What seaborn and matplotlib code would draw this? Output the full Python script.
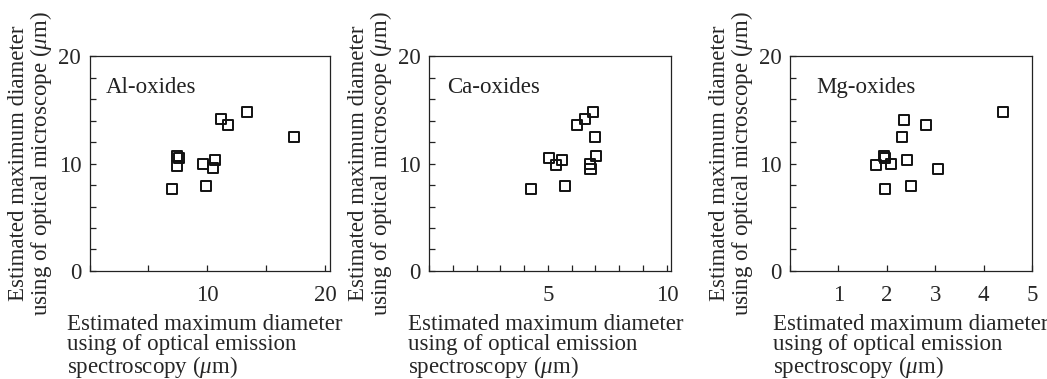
import matplotlib
matplotlib.use("Agg")
import matplotlib.pyplot as plt
import seaborn as sns
from matplotlib.ticker import MultipleLocator, FixedLocator

# Estimated maximum diameters (um): optical emission spectroscopy (x) vs optical microscope (y)
al_x = [7.03, 7.41, 7.63, 7.43, 9.64, 9.84, 10.47, 10.66, 11.17, 11.77, 13.36, 17.32]
al_y = [7.60, 10.73, 10.48, 9.80, 9.93, 7.94, 9.55, 10.33, 14.10, 13.58, 14.80, 12.47]

ca_x = [4.28, 5.05, 5.33, 5.59, 5.70, 6.24, 6.57, 6.89, 6.99, 7.03, 6.75, 6.79]
ca_y = [7.63, 10.48, 9.83, 10.33, 7.91, 13.60, 14.10, 14.76, 12.47, 10.73, 9.93, 9.52]

mg_x = [1.78, 1.94, 1.96, 2.08, 1.96, 2.36, 2.32, 2.41, 2.50, 2.81, 3.06, 4.40]
mg_y = [9.83, 10.70, 10.48, 9.95, 7.63, 14.07, 12.47, 10.33, 7.91, 13.60, 9.52, 14.79]

panel_names = ["Al-oxides", "Ca-oxides", "Mg-oxides"]
x_tick_labels = [[10, 20], [5, 10], [1, 2, 3, 4, 5]]
y_tick_labels = [0, 10, 20]

xlabel = "Estimated maximum diameter\nusing of optical emission\nspectroscopy ($\\mu$m)"
ylabel = "Estimated maximum diameter\nusing of optical microscope ($\\mu$m)"

sns.set_theme(style="ticks")
plt.rcParams["font.family"] = ["Liberation Serif", "DejaVu Serif"]
plt.rcParams["mathtext.fontset"] = "custom"
plt.rcParams["mathtext.rm"] = "Liberation Serif"
plt.rcParams["mathtext.it"] = "Liberation Serif:italic"
plt.rcParams["axes.edgecolor"] = "#222222"
plt.rcParams["text.color"] = "#222222"

FS = 16.5

fig = plt.figure(figsize=(10.47, 3.79), dpi=100)

axes_specs = [
    # left, width (figure fraction), xlim, minor x step, label x offset, name x
    (0.0855, 0.2297, (0, 20.4), 5, -0.092, 0.066),
    (0.4097, 0.2311, (0, 10.17), 1, -0.088, 0.074),
    (0.7545, 0.2311, (0, 5.0), 1, -0.072, 0.108),
]
data = [(al_x, al_y), (ca_x, ca_y), (mg_x, mg_y)]

for i, (left, width, xlim, step, lab_x, name_x) in enumerate(axes_specs):
    ax = fig.add_axes([left, 0.285, width, 0.567])
    xs, ys = data[i]
    sns.scatterplot(x=xs, y=ys, ax=ax, marker="s", s=52,
                    facecolor="none", edgecolor="#111111", linewidth=1.4)
    ax.set_xlim(*xlim)
    ax.set_ylim(0, 20)

    ax.xaxis.set_major_locator(FixedLocator(x_tick_labels[i]))
    ax.xaxis.set_minor_locator(MultipleLocator(step))
    ax.yaxis.set_major_locator(FixedLocator(y_tick_labels))
    ax.yaxis.set_minor_locator(MultipleLocator(2))
    ax.tick_params(axis="both", which="both", direction="in", length=4,
                   width=0.9, color="#222222", labelsize=FS)
    ax.tick_params(axis="x", which="major", pad=10)
    ax.tick_params(axis="y", which="major", pad=6)
    for sp in ax.spines.values():
        sp.set_visible(True)
        sp.set_linewidth(0.9)

    ax.text(name_x, 0.852, panel_names[i], transform=ax.transAxes,
            fontsize=FS, va="center", ha="left")

    ax.set_ylabel(ylabel, fontsize=FS, linespacing=0.95, labelpad=3)
    ax.set_xlabel(xlabel, fontsize=FS, linespacing=0.97, ha="left", va="top")
    ax.xaxis.set_label_coords(lab_x, -0.198)

fig.savefig("out.png", dpi=100)
